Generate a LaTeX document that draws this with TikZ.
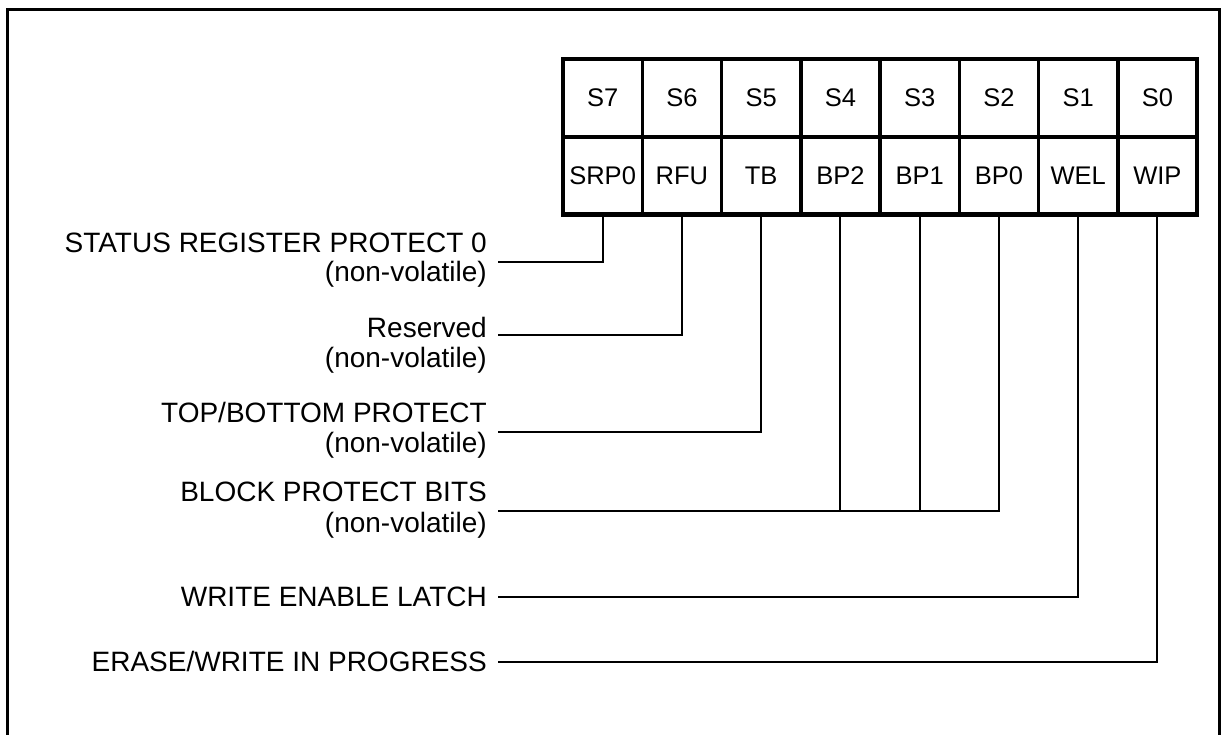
\documentclass[tikz,border=0pt]{standalone}
\usepackage{fontspec}
\setmainfont{Liberation Sans}
\begin{document}
\begin{tikzpicture}[x=1pt,y=-1pt,
  cell/.style={draw, line width=3.5pt, outer sep=0pt, inner sep=0pt,
    minimum width=79.25pt, minimum height=77.5pt,
    font=\fontsize{25.5}{28}\selectfont},
  lbl/.style={anchor=base east, inner sep=0pt, font=\fontsize{28}{30}\selectfont},
  conn/.style={line width=2.2pt}]
\useasboundingbox (0,0) rectangle (1226,734);
\draw[line width=3pt] (7.8,9) rectangle (1219,770);
% register cells
\foreach \n/\b [count=\i from 0] in {S7/SRP0,S6/RFU,S5/TB,S4/BP2,S3/BP1,S2/BP0,S1/WEL,S0/WIP}{
  \node[cell] (t\i) at ({563+79.25*(\i+0.5)},98.1) {\n};
  \node[cell] (b\i) at ({563+79.25*(\i+0.5)},175.8) {\b};
}
\draw[line width=4.2pt] (t0.north west) rectangle (b7.south east);
% labels
\node[lbl] (srp)   at (487,252) {STATUS REGISTER PROTECT 0};
\node[lbl] (srpnv) at (487,281) {(non-volatile)};
\node[lbl] (res)   at (487,337) {Reserved};
\node[lbl] (resnv) at (487,367) {(non-volatile)};
\node[lbl] (tb)    at (487,422) {TOP/BOTTOM PROTECT};
\node[lbl] (tbnv)  at (487,452) {(non-volatile)};
\node[lbl] (bp)    at (487,501) {BLOCK PROTECT BITS};
\node[lbl] (bpnv)  at (487,532) {(non-volatile)};
\node[lbl] (wel)   at (487,606) {WRITE ENABLE LATCH};
\node[lbl] (wip)   at (487,671) {ERASE/WRITE IN PROGRESS};
% connector ends
\coordinate (e0) at (498,262);
\coordinate (e1) at (498,335);
\coordinate (e2) at (498,432);
\coordinate (e3) at (498,511);
\coordinate (e6) at (498,597);
\coordinate (e7) at (498,662);
% connectors
\draw[conn] (b0.south) |- (e0);
\draw[conn] (b1.south) |- (e1);
\draw[conn] (b2.south) |- (e2);
\draw[conn] (b5.south) |- (e3);
\draw[conn] (b3.south) -- (b3.south |- e3);
\draw[conn] (b4.south) -- (b4.south |- e3);
\draw[conn] (b6.south) |- (e6);
\draw[conn] (b7.south) |- (e7);
\end{tikzpicture}
\end{document}
